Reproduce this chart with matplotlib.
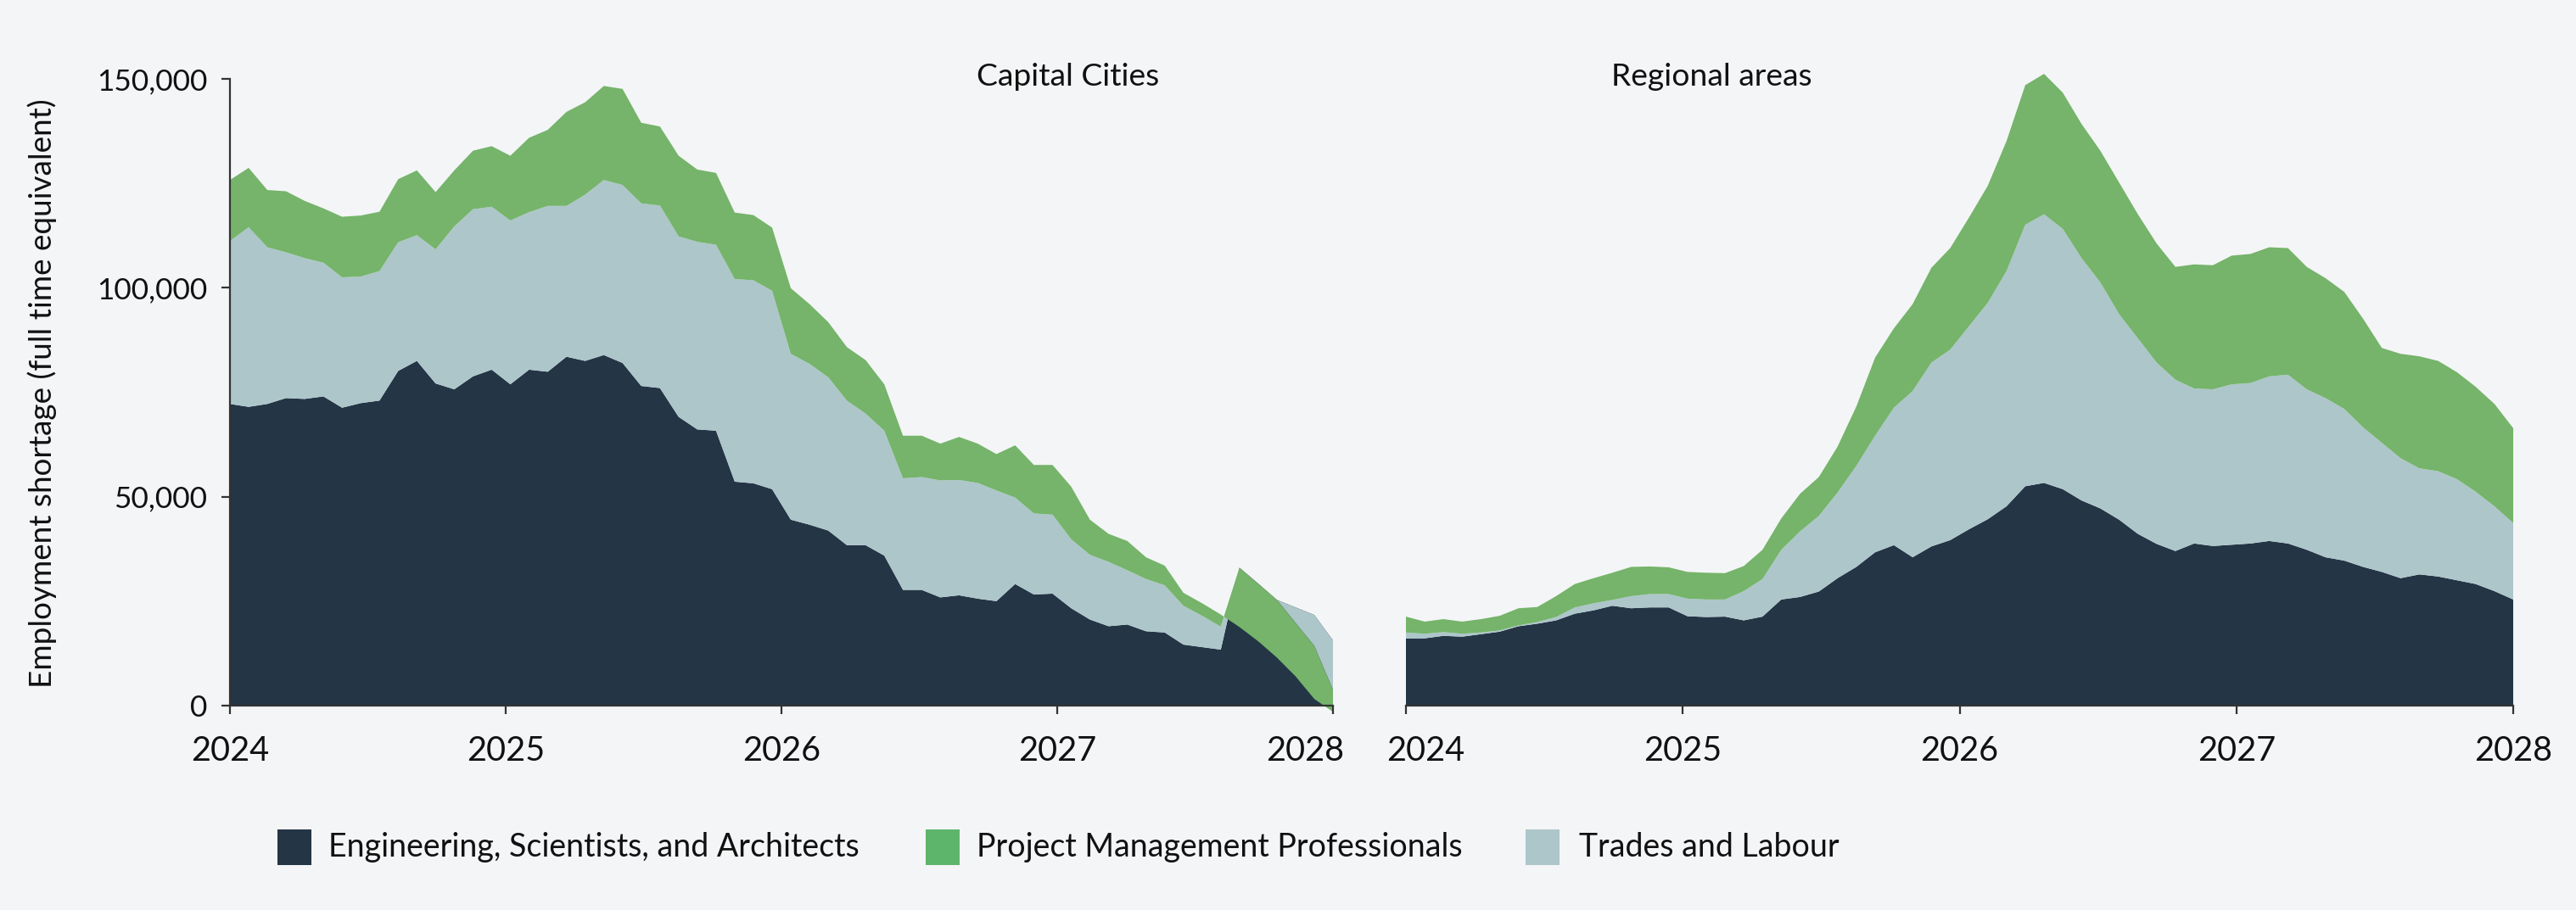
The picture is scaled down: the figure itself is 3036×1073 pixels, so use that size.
import numpy as np
import matplotlib
matplotlib.use("Agg")
import matplotlib.pyplot as plt
import matplotlib.transforms as mtransforms
from matplotlib.patches import Rectangle
from matplotlib.ticker import FuncFormatter

plt.rcParams['font.family'] = ['Lato', 'DejaVu Sans']

# Datos (miles de FTE), 60 puntos entre 2024 y 2028
fechas = np.linspace(2024, 2028, 60)

# Capital Cities
cap_ingenieria = [72.2, 71.5, 72.2, 73.6, 73.4, 74.0, 71.3, 72.4, 73.0, 80.1,
                  82.5, 77.1, 75.7, 78.8, 80.4, 76.9, 80.4, 79.9, 83.5, 82.5,
                  83.9, 82.0, 76.5, 76.0, 69.1, 66.1, 65.8, 53.6, 53.2, 51.8,
                  44.5, 43.3, 41.9, 38.4, 38.4, 35.9, 27.7, 27.7, 25.9, 26.4,
                  25.6, 25.0, 29.1, 26.6, 26.8, 23.3, 20.6, 19.0, 19.4, 17.8,
                  17.5, 14.6, 14.0, 13.4, 33.0, 29.2, 25.3, 23.5, 21.7, 15.6]
cap_oficios = [39.0, 43.0, 37.5, 34.9, 33.7, 32.0, 31.2, 30.3, 31.0, 30.8,
               30.1, 32.1, 39.0, 40.0, 39.0, 39.2, 37.7, 39.7, 36.1, 39.8,
               41.9, 42.6, 43.7, 43.7, 43.2, 44.9, 44.5, 48.5, 48.6, 47.5,
               39.7, 38.5, 36.7, 34.6, 31.5, 29.9, 26.7, 27.0, 28.0, 27.6,
               27.7, 26.5, 20.7, 19.4, 18.9, 16.5, 15.5, 15.4, 13.0, 12.5,
               11.3, 9.3, 7.5, 5.5, 0.0, 0.0, 0.0, -3.7, -7.4, -11.8]
cap_gestion = [14.6, 14.2, 13.7, 14.6, 13.7, 13.0, 14.5, 14.6, 14.2, 15.1,
               15.5, 13.7, 13.4, 14.0, 14.5, 15.5, 17.8, 18.2, 22.5, 22.1,
               22.5, 23.0, 19.3, 18.9, 19.3, 17.3, 17.2, 15.9, 15.6, 15.1,
               15.7, 14.3, 13.2, 12.8, 12.8, 11.1, 10.2, 9.9, 8.8, 10.3,
               9.4, 8.7, 12.5, 11.6, 11.9, 12.6, 8.4, 6.7, 7.0, 5.2,
               4.7, 3.1, 3.0, 2.9, -14.2, -13.8, -13.8, -12.8, -12.7, -5.3]

# Regional areas
reg_ingenieria = [16.1, 16.1, 16.7, 16.5, 17.1, 17.7, 19.0, 19.6, 20.4, 22.0,
                  22.8, 23.9, 23.3, 23.5, 23.5, 21.4, 21.2, 21.3, 20.4, 21.3,
                  25.4, 26.0, 27.3, 30.5, 33.2, 36.7, 38.4, 35.5, 38.1, 39.6,
                  42.2, 44.6, 47.7, 52.5, 53.3, 51.8, 49.1, 47.2, 44.5, 41.1,
                  38.7, 37.0, 38.8, 38.2, 38.5, 38.8, 39.4, 38.8, 37.3, 35.5,
                  34.7, 33.2, 32.0, 30.5, 31.4, 30.9, 30.0, 29.1, 27.4, 25.4]
reg_oficios = [1.4, 1.1, 0.9, 0.7, 0.4, 0.3, 0.2, 0.4, 0.8, 1.5,
               1.7, 1.4, 2.9, 3.2, 3.2, 4.2, 4.2, 4.1, 7.0, 9.0,
               11.9, 15.7, 18.1, 20.5, 24.2, 27.9, 32.9, 39.8, 44.0, 45.6,
               48.6, 51.8, 56.3, 62.6, 64.3, 62.3, 58.0, 54.1, 49.2, 46.8,
               43.4, 41.0, 37.1, 37.5, 38.4, 38.4, 39.4, 40.4, 38.4, 38.1,
               36.3, 33.4, 30.9, 28.7, 25.4, 25.2, 24.2, 22.1, 20.3, 18.3]
reg_gestion = [3.8, 2.9, 3.1, 2.9, 3.2, 3.5, 4.1, 3.6, 5.0, 5.6,
               6.0, 6.5, 7.0, 6.6, 6.4, 6.4, 6.4, 6.3, 6.0, 7.0,
               7.5, 9.0, 9.3, 11.0, 14.2, 18.7, 19.0, 20.8, 22.7, 24.3,
               26.0, 28.0, 31.1, 33.4, 33.6, 32.6, 32.1, 31.5, 31.5, 29.7,
               28.5, 27.0, 29.7, 29.7, 30.8, 30.9, 30.9, 30.3, 29.3, 28.7,
               28.0, 26.0, 22.7, 25.0, 26.8, 26.4, 25.6, 25.1, 24.5, 22.7]

series = ['Engineering, Scientists, and Architects',
          'Project Management Professionals',
          'Trades and Labour']
colores = ['#243546', '#adc6ca', '#75b46a']          # ingenieria, oficios, gestion
colores_leyenda = ['#243546', '#5db56b', '#adc6ca']
fondo = '#f4f5f7'

W, H = 3036, 1073
fig = plt.figure(figsize=(W / 200, H / 200), dpi=200, facecolor=fondo)

ymin, ymax = -3000, 152000
px_por_unidad = 739 / 150000
y0_px = 832 + (-ymin) * px_por_unidad
alto_px = (ymax - ymin) * px_por_unidad
abajo = 1 - y0_px / H
alto = alto_px / H

ax1 = fig.add_axes([271 / W, abajo, 1300 / W, alto])
ax2 = fig.add_axes([1657 / W, abajo, 1305 / W, alto])

paneles = [
    (ax1, 'Capital Cities', 0.76, [cap_ingenieria, cap_oficios, cap_gestion]),
    (ax2, 'Regional areas', 0.276, [reg_ingenieria, reg_oficios, reg_gestion]),
]

for ax, titulo, xt, datos in paneles:
    ax.set_facecolor(fondo)
    valores = [np.array(d) * 1000 for d in datos]
    ax.stackplot(fechas, *valores, colors=colores, linewidth=0)
    ax.set_xlim(2024, 2028)
    ax.set_ylim(ymin, ymax)
    ax.set_xticks([2024, 2025, 2026, 2027, 2028])
    for s in ['top', 'right']:
        ax.spines[s].set_visible(False)
    ax.spines['bottom'].set_position(('data', 0))
    ax.spines['bottom'].set_bounds(2024, 2028)
    ax.spines['bottom'].set_color('#333333')
    ax.spines['bottom'].set_linewidth(0.8)
    ax.tick_params(axis='x', length=3.6, width=0.8, color='#333333',
                   labelsize=14.3, pad=9, labelcolor='#111111')
    ax.text(xt, 0.991, titulo, transform=ax.transAxes, ha='center',
            va='center', fontsize=13.4, color='#111111')

ax1.spines['left'].set_bounds(0, 150000)
ax1.spines['left'].set_color('#333333')
ax1.spines['left'].set_linewidth(0.8)
ax1.set_yticks([0, 50000, 100000, 150000])
ax1.yaxis.set_major_formatter(FuncFormatter(lambda v, p: f'{int(v):,}'))
ax1.tick_params(axis='y', length=3.6, width=0.8, color='#333333',
                labelsize=12.7, pad=6, labelcolor='#111111')

ax2.spines['left'].set_visible(False)
ax2.set_yticks([])

# las etiquetas que se tocan en el centro se apartan un poco
fig.canvas.draw()
desp_izq = mtransforms.ScaledTranslation(-33 / 200, 0, fig.dpi_scale_trans)
desp_der = mtransforms.ScaledTranslation(23 / 200, 0, fig.dpi_scale_trans)
etiq = ax1.get_xticklabels()[-1]
etiq.set_transform(etiq.get_transform() + desp_izq)
etiq = ax2.get_xticklabels()[0]
etiq.set_transform(etiq.get_transform() + desp_der)

fig.text(50 / W, 1 - 464 / H, 'Employment shortage (full time equivalent)',
         rotation=90, ha='center', va='center', fontsize=13.3, color='#111111')

# Leyenda
posiciones = [(327, 387), (1091, 1151), (1798, 1861)]
yc = 1 - 999 / H
for (xq, xtx), nombre, col in zip(posiciones, series, colores_leyenda):
    fig.add_artist(Rectangle((xq / W, (1 - 1020 / H)), 40 / W, 42 / H,
                             transform=fig.transFigure, facecolor=col,
                             edgecolor='none'))
    fig.text(xtx / W, yc, nombre, ha='left', va='center', fontsize=13.5,
             color='#111111')

fig.savefig('out.png', dpi=200, facecolor=fondo)
